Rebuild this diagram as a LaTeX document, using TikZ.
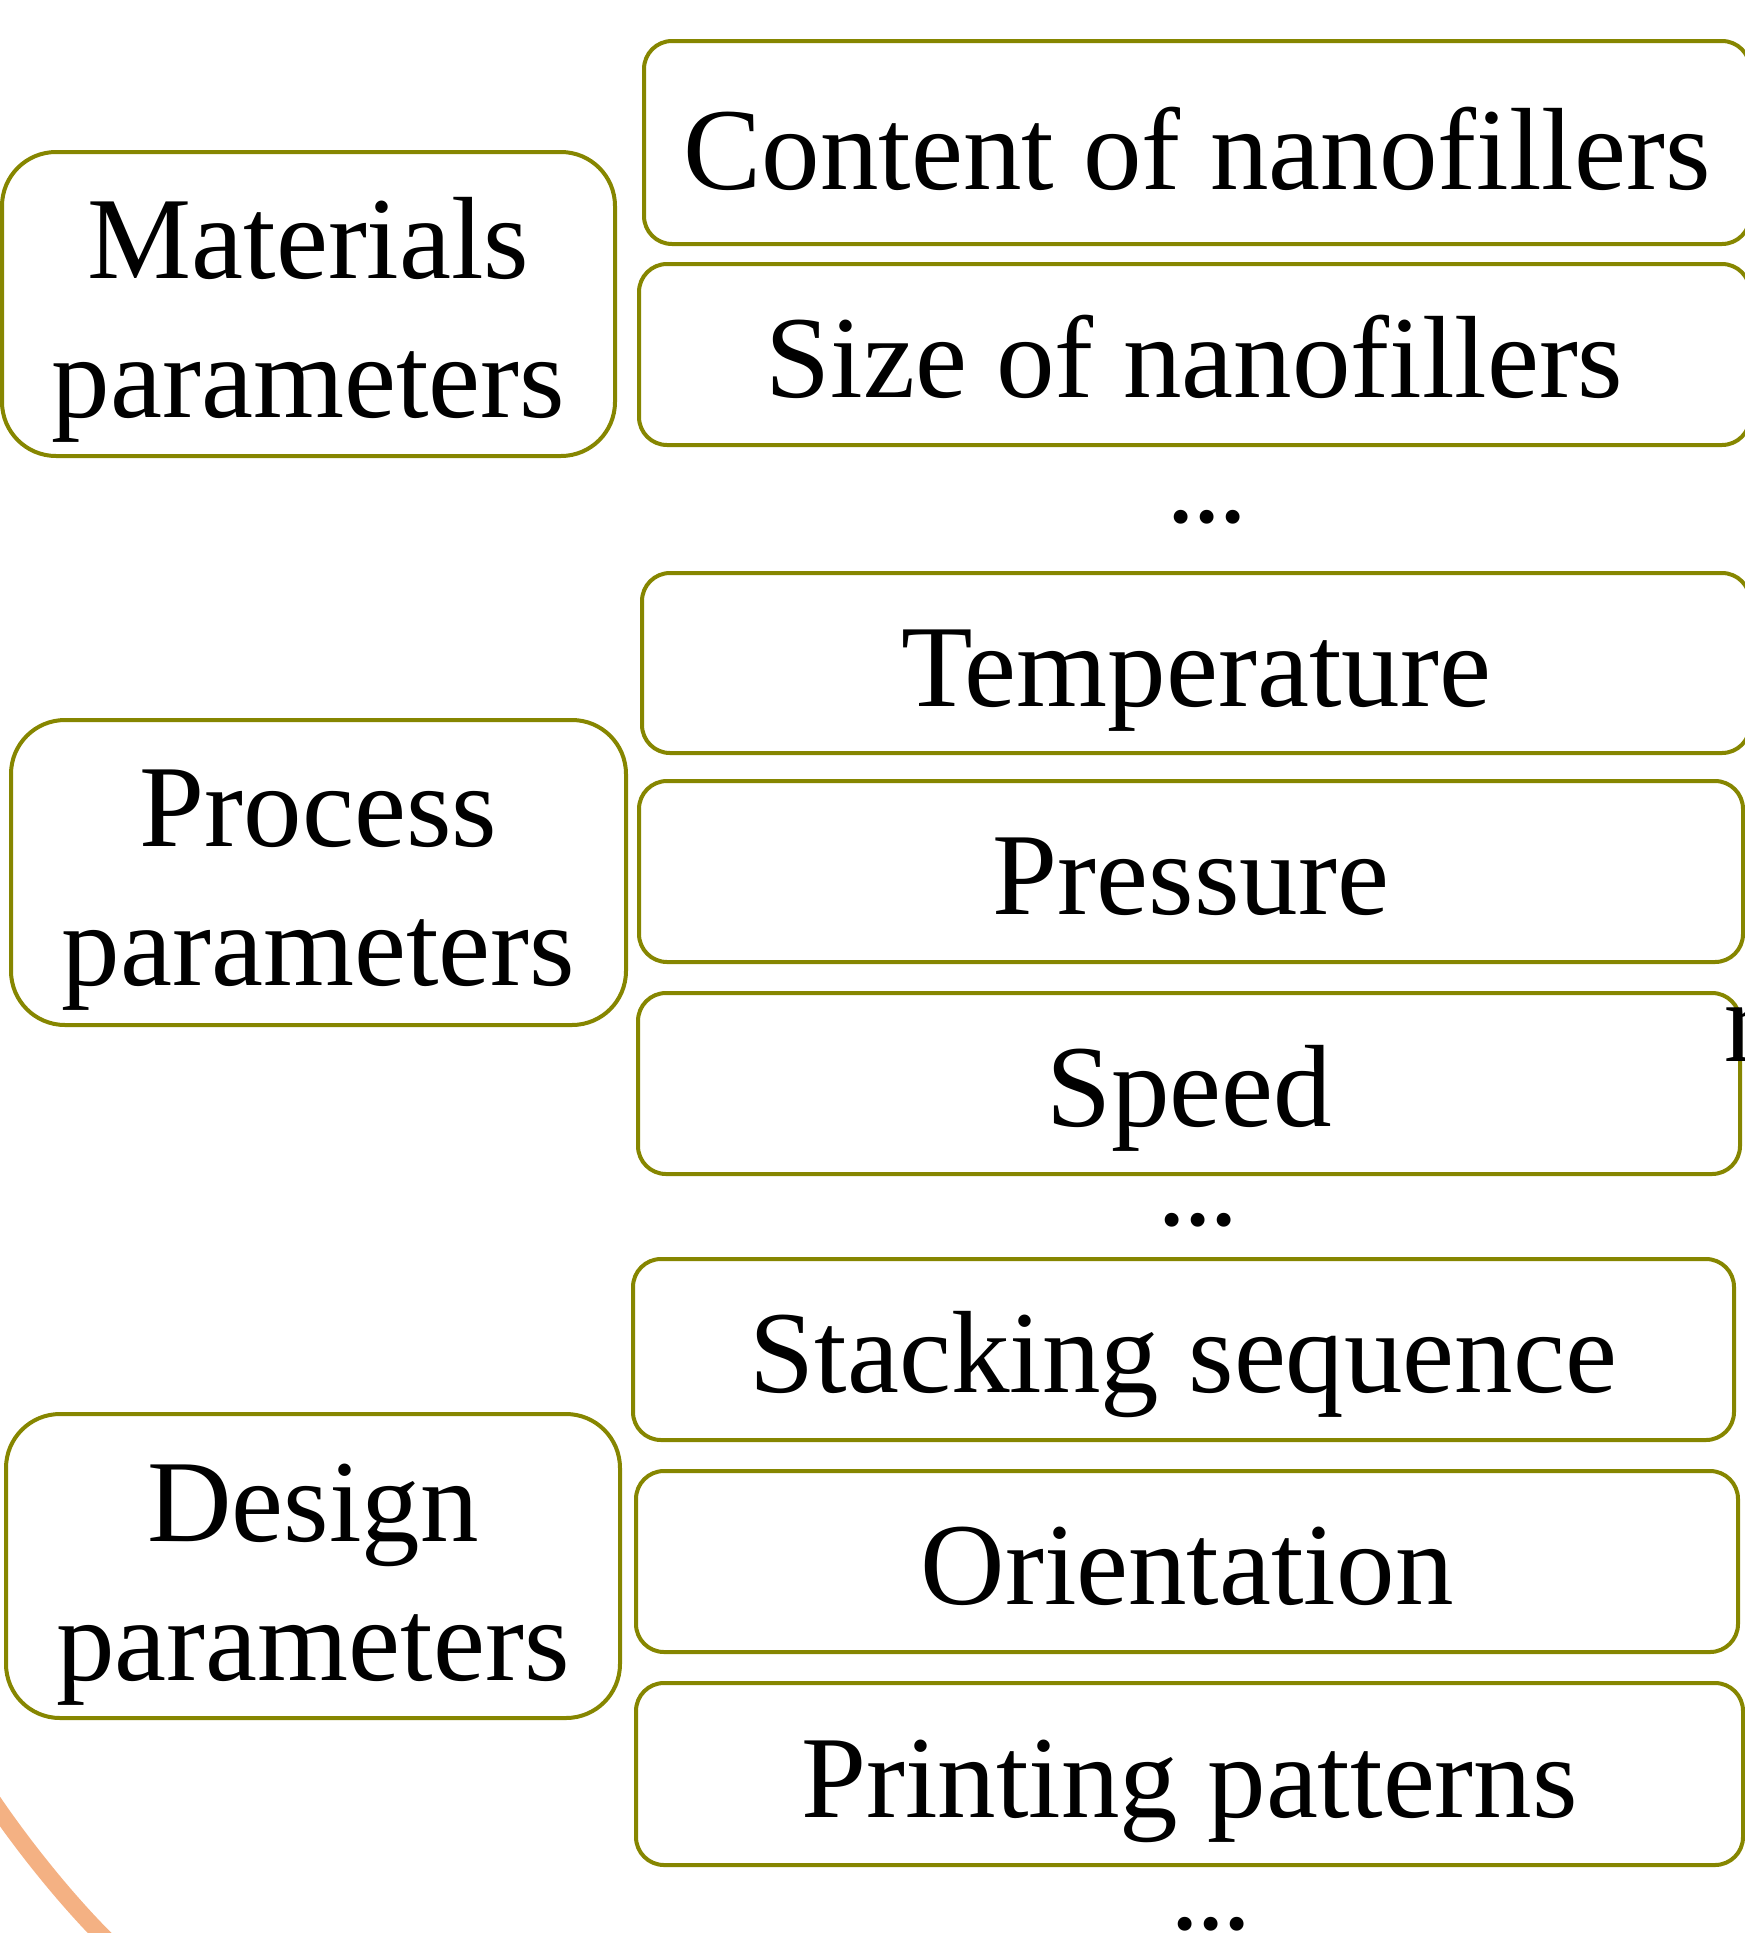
\documentclass[tikz,border=0pt]{standalone}
\usepackage{fontspec}
\setmainfont{Liberation Serif}
\definecolor{boxline}{RGB}{134,134,0}
\definecolor{arcpeach}{RGB}{244,177,131}
\newcommand\paramfont{\fontsize{58.5pt}{69.5pt}\selectfont}
\newcommand\moredots{.\kern-0.03em.\kern-0.03em.}

\begin{document}
\begin{tikzpicture}[x=0.5pt,y=-0.5pt,
  item/.style={draw=boxline, line width=2pt, fill=white, rounded corners=14pt,
    inner sep=0pt, font=\paramfont, text height=43pt, text depth=0pt},
  group/.style={item, rounded corners=27pt},
  lbl/.style={font=\paramfont, inner sep=0pt, anchor=base},
]
\useasboundingbox (0,0) rectangle (1745,1933);
\clip (0,0) rectangle (1745,1933);

% part of the large peach ring in the lower left corner
\coordinate (ringA) at (-10,1797);
\coordinate (ringB) at (118,1951);
\draw[arcpeach, line width=8.5pt] (ringA) .. controls (23.5,1847) and (74,1910) .. (ringB);

% parameter groups
\node[group, minimum width=306.5pt, minimum height=152pt] (mat) at (308.5,304) {};
\node[lbl] (matA) at (308.5,278) {Materials};
\node[lbl] (matB) at (308.5,417) {parameters};

\node[group, minimum width=307.5pt, minimum height=152.5pt] (proc) at (318.5,872.5) {};
\node[lbl] (procA) at (318.5,846.5) {Process};
\node[lbl] (procB) at (318.5,985.5) {parameters};

\node[group, minimum width=307pt, minimum height=152pt] (des) at (313,1566) {};
\node[lbl] (desA) at (313,1541) {Design};
\node[lbl] (desB) at (313,1680) {parameters};

% individual parameters
\node[item, minimum width=553pt, minimum height=101.5pt, text height=46.5pt] (content) at (1197,142.5) {Content of nanofillers};
\node[item, minimum width=555.5pt, minimum height=90.5pt] (size) at (1194.5,354.5) {Size of nanofillers};
\node[lbl] (dotsA) at (1207,522) {\moredots};

\node[item, minimum width=554pt, minimum height=90pt] (temp) at (1196,663) {Temperature};
\node[item, minimum width=552pt, minimum height=90.5pt] (press) at (1191,871.5) {Pressure};
\node[item, minimum width=551pt, minimum height=90.5pt] (speed) at (1189,1083.5) {Speed};
\node[lbl] (dotsB) at (1198,1225) {\moredots};

\node[item, minimum width=550.5pt, minimum height=90.5pt] (stack) at (1183.5,1349.5) {Stacking sequence};
\node[item, minimum width=551pt, minimum height=90.5pt] (orient) at (1187,1561.5) {Orientation};
\node[item, minimum width=553.5pt, minimum height=91pt] (print) at (1189.5,1774) {Printing patterns};
\node[lbl] (dotsC) at (1211,1929) {\moredots};

% start of a word running past the right border
\node[lbl, anchor=base west] (edgeword) at (1724,1061) {r};
\end{tikzpicture}
\end{document}
